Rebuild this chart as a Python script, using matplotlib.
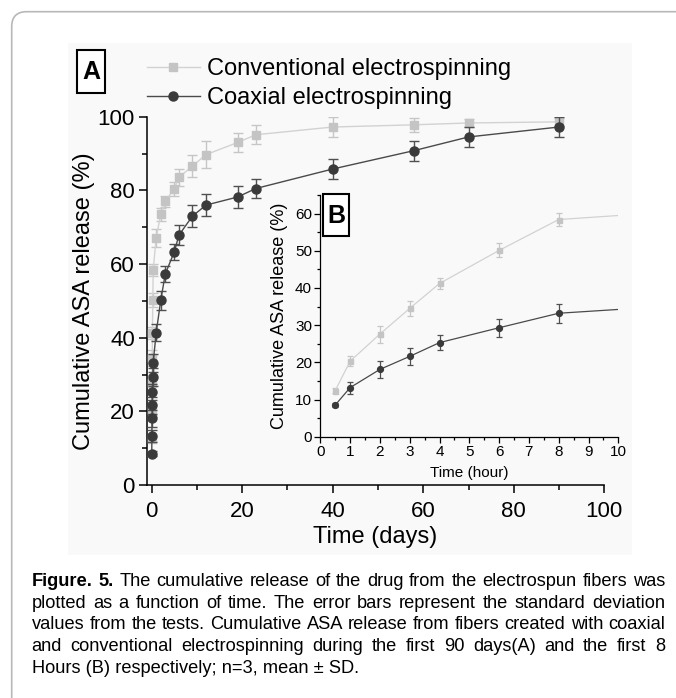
import numpy as np
import matplotlib
matplotlib.use("Agg")
import matplotlib.pyplot as plt
from matplotlib.patches import FancyBboxPatch, Rectangle
from matplotlib.ticker import MultipleLocator

plt.rcParams['font.family'] = ['Liberation Sans', 'DejaVu Sans']

# sampling times: first 8 hours, then days
hours = [0.5, 1, 2, 3, 4, 6, 8]
days = [1, 2, 3, 5, 6, 9, 12, 19, 23, 40, 58, 70, 90]

# conventional electrospinning (mean, sd)
conv_hours = [12.4, 20.3, 27.6, 34.5, 41.2, 50.1, 58.4]
conv_hours_sd = [0.6, 1.3, 2.3, 2.1, 1.6, 1.9, 1.7]
conv_days = [67.1, 73.5, 77.0, 80.5, 83.5, 86.6, 89.7, 93.0, 95.1, 97.2, 97.8, 98.3, 98.6]
conv_days_sd = [2.4, 1.8, 1.5, 1.9, 2.3, 3.1, 3.6, 2.5, 2.6, 2.7, 1.9, 1.0, 1.0]

# coaxial electrospinning (mean, sd)
coax_hours = [8.5, 13.2, 18.1, 21.6, 25.3, 29.3, 33.2]
coax_hours_sd = [0.6, 1.6, 2.3, 2.2, 2.1, 2.4, 2.5]
coax_days = [41.4, 50.1, 57.3, 63.3, 67.8, 73.0, 76.0, 78.2, 80.5, 85.8, 90.8, 94.5, 97.2]
coax_days_sd = [2.3, 2.7, 2.2, 2.2, 2.7, 2.9, 2.9, 2.9, 2.6, 2.7, 2.7, 2.7, 2.6]

labels = ["Conventional electrospinning", "Coaxial electrospinning"]

caption = [
    "Figure. 5. The cumulative release of the drug from the electrospun fibers was",
    "plotted as a function of time. The error bars represent the standard deviation",
    "values from the tests. Cumulative ASA release from fibers created with coaxial",
    "and conventional electrospinning during the first 90 days(A) and the first 8",
    "Hours (B) respectively; n=3, mean \u00b1 SD.",
]

t_h = np.array(hours + [d * 24 for d in days], dtype=float)
t_d = t_h / 24
conv = np.array(conv_hours + conv_days)
conv_sd = np.array(conv_hours_sd + conv_days_sd)
coax = np.array(coax_hours + coax_days)
coax_sd = np.array(coax_hours_sd + coax_days_sd)

W, H = 676, 698
fig = plt.figure(figsize=(W / 100, H / 100), dpi=100)
fig.patch.set_facecolor("white")

def fx(px):
    return px / W

def fy(py):
    return 1 - py / H

def boxed_letter(letter, x0, y0, x1, y1):
    # letter in a black square frame, corners given in pixels
    fig.add_artist(Rectangle((fx(x0), fy(y1)), fx(x1) - fx(x0), fy(y0) - fy(y1),
                             transform=fig.transFigure, fc="white", ec="black", lw=1.5, zorder=6))
    fig.text(fx((x0 + x1) / 2), fy((y0 + y1) / 2 + 1), letter, fontsize=18, fontweight="bold",
             ha="center", va="center", zorder=7)

# page frame and the faint picture background
frame = FancyBboxPatch((0.117, -1.0), 8.0, 6.863 + 1.0,
                       boxstyle="round,pad=0,rounding_size=0.15",
                       transform=fig.dpi_scale_trans, fc="none", ec="#b8b8b8", lw=1.2)
fig.add_artist(frame)
bg = Rectangle((fx(68), fy(555)), fx(632) - fx(68), fy(43) - fy(555),
               transform=fig.transFigure, fc="#f9f9f9", ec="none", zorder=-1)
fig.add_artist(bg)

conv_mc, conv_lc, conv_ec = "#c4c4c4", "#d2d2d2", "#c6c6c6"
coax_mc, coax_lc, coax_ec = "#3a3a3a", "#4a4a4a", "#505050"

# ---------------- main panel (days)
ax = fig.add_axes([fx(146.7), fy(485), fx(604.3) - fx(146.7), fy(116.7) - fy(485)])
ax.set_facecolor("none")
ax.errorbar(t_d, conv, yerr=conv_sd, fmt="none", ecolor=conv_ec, elinewidth=1.0, capsize=3.5, capthick=1.0, zorder=2)
l1, = ax.plot(t_d, conv, color=conv_lc, lw=1.0, marker="s", ms=5.5, mfc=conv_mc, mec=conv_mc, zorder=3)
ax.errorbar(t_d, coax, yerr=coax_sd, fmt="none", ecolor=coax_ec, elinewidth=1.0, capsize=3.5, capthick=1.0, zorder=4)
l2, = ax.plot(t_d, coax, color=coax_lc, lw=1.0, marker="o", ms=6.5, mfc=coax_mc, mec=coax_mc, zorder=5)

ax.set_xlim(-1.1, 100)
ax.set_ylim(0, 100)
ax.xaxis.set_major_locator(MultipleLocator(20))
ax.xaxis.set_minor_locator(MultipleLocator(10))
ax.yaxis.set_major_locator(MultipleLocator(20))
ax.yaxis.set_minor_locator(MultipleLocator(10))
for s in ["top", "right"]:
    ax.spines[s].set_visible(False)
for s in ["left", "bottom"]:
    ax.spines[s].set_linewidth(1.1)
ax.tick_params(which="major", length=6, width=1.1, labelsize=16)
ax.tick_params(which="minor", length=3.5, width=1.1)
ax.tick_params(axis="x", which="major", pad=5.5)
ax.tick_params(axis="y", which="major", pad=2.5)
ax.set_xlabel("Time (days)", fontsize=17, labelpad=3)
ax.set_ylabel("Cumulative ASA release (%)", fontsize=17, labelpad=2)

boxed_letter("A", 77, 50, 105, 92.7)
fig.legend([l1, l2], labels, loc="upper left", bbox_to_anchor=(fx(146.7), fy(58.5)),
           fontsize=17, frameon=False, handlelength=2.25, handletextpad=0.3,
           borderpad=0, borderaxespad=0, labelspacing=0.28)

# ---------------- inset (hours)
ins = fig.add_axes([fx(320.3), fy(436.7), fx(618.3) - fx(320.3), fy(195) - fy(436.7)])
ins.set_facecolor("none")
ins.errorbar(t_h, conv, yerr=conv_sd, fmt="none", ecolor=conv_ec, elinewidth=0.9, capsize=2.5, capthick=0.9, zorder=2)
ins.plot(t_h, conv, color=conv_lc, lw=0.9, marker="s", ms=3.6, mfc=conv_mc, mec=conv_mc, zorder=3)
ins.errorbar(t_h, coax, yerr=coax_sd, fmt="none", ecolor=coax_ec, elinewidth=0.9, capsize=2.5, capthick=0.9, zorder=4)
ins.plot(t_h, coax, color=coax_lc, lw=0.9, marker="o", ms=4.2, mfc=coax_mc, mec=coax_mc, zorder=5)
ins.set_xlim(0, 10)
ins.set_ylim(0, 65)
ins.xaxis.set_major_locator(MultipleLocator(1))
ins.xaxis.set_minor_locator(MultipleLocator(0.5))
ins.yaxis.set_major_locator(MultipleLocator(10))
ins.yaxis.set_minor_locator(MultipleLocator(5))
for s in ["top", "right"]:
    ins.spines[s].set_visible(False)
for s in ["left", "bottom"]:
    ins.spines[s].set_linewidth(0.9)
ins.tick_params(which="major", length=4, width=0.9, labelsize=11, pad=2)
ins.tick_params(which="minor", length=2.2, width=0.9)
ins.set_xlabel("Time (hour)", fontsize=11, labelpad=5)
ins.set_ylabel("Cumulative ASA release (%)", fontsize=13, labelpad=5)
boxed_letter("B", 322.7, 194.3, 349.3, 236)

# ---------------- caption, justified like the journal layout
renderer = fig.canvas.get_renderer()
left, right = 31.7, 665
base0, step = 586, 21.7
cap_fs = 13.5

def word_texts(i, line, fs):
    out = []
    for j, w in enumerate(line.split(" ")):
        bold = (i == 0 and j < 2)
        out.append(fig.text(0, 0, w, fontsize=fs, va="baseline", ha="left",
                            fontweight="bold" if bold else "normal"))
    return out

# shrink the size a little if a line would not fit with normal spacing
space_w = fig.text(0, 0, "a a", fontsize=cap_fs).get_window_extent(renderer).width - \
    fig.text(0, 0, "aa", fontsize=cap_fs).get_window_extent(renderer).width
for t in list(fig.texts)[-2:]:
    t.remove()
widest = 0
for i, line in enumerate(caption):
    tmp = word_texts(i, line, cap_fs)
    wsum = sum(t.get_window_extent(renderer).width for t in tmp) + space_w * (len(tmp) - 1)
    widest = max(widest, wsum)
    for t in tmp:
        t.remove()
if widest > right - left:
    cap_fs = cap_fs * (right - left) / widest

for i, line in enumerate(caption):
    y = fy(base0 + i * step)
    if i == len(caption) - 1:
        fig.text(fx(left), y, line, fontsize=cap_fs, va="baseline", ha="left")
        continue
    texts = word_texts(i, line, cap_fs)
    widths = [t.get_window_extent(renderer).width for t in texts]
    gap = (right - left - sum(widths)) / (len(texts) - 1)
    xpos = left
    for t, wd in zip(texts, widths):
        t.set_position((fx(xpos), y))
        xpos += wd + gap

fig.savefig("out.png", dpi=100)
